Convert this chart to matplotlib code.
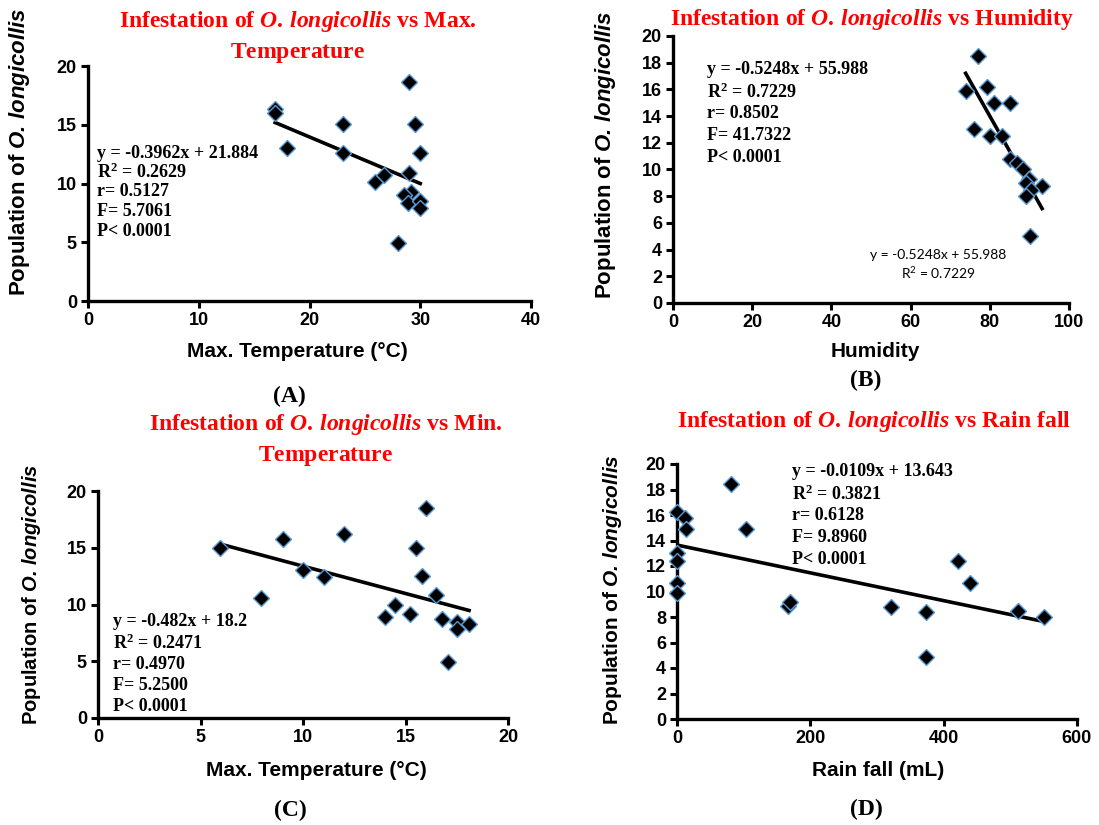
import numpy as np
import matplotlib
matplotlib.use("Agg")
import matplotlib.pyplot as plt

SANS = "Liberation Sans"
SERIF = "Liberation Serif"

matplotlib.rcParams.update({
    "font.family": SANS,
    "font.weight": "bold",
    "axes.spines.top": False,
    "axes.spines.right": False,
    "mathtext.fontset": "custom",
    "mathtext.rm": SERIF + ":bold",
    "mathtext.it": SERIF + ":italic:bold",
    "mathtext.sf": SANS + ":bold",
    "mathtext.tt": SANS + ":italic:bold",
})

# ---------------------------------------------------------------------------
# Data
# ---------------------------------------------------------------------------
max_temp = [16.9, 16.9, 18.0, 23.0, 23.0, 25.9, 26.7, 29.0, 29.5, 30.0,
            29.0, 29.2, 28.5, 28.9, 30.0, 30.0, 28.0]
pop_a = [16.3, 16.0, 13.0, 15.1, 12.6, 10.1, 10.7, 18.6, 15.1, 12.6,
         10.9, 9.3, 9.0, 8.35, 8.5, 7.95, 4.9]

humidity = [77.0, 73.9, 79.2, 81.1, 85.1, 76.0, 80.0, 83.2, 85.1, 86.8,
            88.3, 90.0, 89.1, 93.2, 90.3, 89.1, 90.1]
pop_b = [18.5, 15.9, 16.2, 15.0, 15.0, 13.0, 12.5, 12.5, 10.8, 10.5,
         10.0, 9.3, 9.0, 8.8, 8.5, 8.0, 5.0]

min_temp = [5.95, 7.95, 9.0, 10.0, 11.0, 12.0, 14.0, 14.5, 15.2, 15.5,
            15.8, 16.0, 16.5, 16.8, 17.5, 17.5, 18.1, 17.05]
pop_c = [15.0, 10.6, 15.8, 13.0, 12.4, 16.2, 8.9, 10.0, 9.15, 15.0,
         12.5, 18.5, 10.8, 8.7, 8.5, 7.8, 8.3, 4.9]

rain = [81.6, 0, 11.5, 13, 104, 0, 0, 0, 0, 167, 170, 321, 373, 373,
        422, 440, 511, 550]
pop_d = [18.4, 16.2, 15.8, 14.9, 14.9, 13.0, 12.4, 10.7, 9.9, 8.9, 9.2,
         8.76, 8.4, 4.9, 12.4, 10.7, 8.5, 8.0]

fits = {
    "A": (-0.3962, 21.884),
    "B": (-0.5248, 55.988),
    "C": (-0.482, 18.2),
    "D": (-0.0109, 13.643),
}
stats = {
    "A": ["y = -0.3962x + 21.884", "R$^{2}$ = 0.2629", "r= 0.5127",
          "F= 5.7061", "P< 0.0001"],
    "B": ["y = -0.5248x + 55.988", "R$^{2}$ = 0.7229", "r= 0.8502",
          "F= 41.7322", "P< 0.0001"],
    "C": ["y = -0.482x + 18.2", "R$^{2}$ = 0.2471", "r= 0.4970",
          "F= 5.2500", "P< 0.0001"],
    "D": ["y = -0.0109x + 13.643", "R$^{2}$ = 0.3821", "r= 0.6128",
          "F= 9.8960", "P< 0.0001"],
}

W, H = 1099, 825
fig = plt.figure(figsize=(W / 100, H / 100), dpi=100)


def px(x, y):
    return x / W, 1 - y / H


def make_axes(x0, x1, ytop, ybot):
    return fig.add_axes([x0 / W, 1 - ybot / H, (x1 - x0) / W, (ybot - ytop) / H])


RED = "#FF0000"
EDGE = "#5B9BD5"
TITLE_FS = 17
STAT_FS = 13
LABEL_FS = 15
TICK_FS = 13


def panel(ax, x, y, fit, xlim, xticks, ylim, yticks):
    slope, icpt = fit
    xs = np.array([min(x), max(x)])
    ax.plot(xs, slope * xs + icpt, color="black", lw=2.6, zorder=2)
    ax.plot(x, y, ls="none", marker="D", ms=8.3, mfc="black",
            mec=EDGE, mew=1.0, zorder=3, clip_on=False)
    ax.set_xlim(*xlim)
    ax.set_ylim(*ylim)
    ax.set_xticks(list(xticks))
    ax.set_xticklabels([str(v) for v in xticks], fontweight="heavy",
                       fontsize=TICK_FS)
    ax.set_yticks(list(yticks))
    ax.set_yticklabels([str(v) for v in yticks], fontweight="heavy",
                       fontsize=TICK_FS)
    for s in ("left", "bottom"):
        ax.spines[s].set_linewidth(2.4)
    ax.tick_params(direction="out", length=5, width=2.2, pad=3)


ylab = r"$\mathsf{Population\ of\ }\mathtt{O.}\,\mathtt{longicollis}$"

# ----- (A)
axA = make_axes(88, 531, 66, 301)
panel(axA, max_temp, pop_a, fits["A"], (0, 40), [0, 10, 20, 30, 40],
      (0, 20), [0, 5, 10, 15, 20])
# ----- (B)
axB = make_axes(673, 1069, 36, 303)
panel(axB, humidity, pop_b, fits["B"], (0, 100), range(0, 101, 20),
      (0, 20), range(0, 21, 2))
# ----- (C)
axC = make_axes(98, 508, 491, 718)
panel(axC, min_temp, pop_c, fits["C"], (0, 20), [0, 5, 10, 15, 20],
      (0, 20), [0, 5, 10, 15, 20])
# ----- (D)
axD = make_axes(677, 1077, 464, 719)
panel(axD, rain, pop_d, fits["D"], (0, 600), [0, 200, 400, 600],
      (0, 20), range(0, 21, 2))

# titles
head = r"\mathrm{Infestation\ of\ }\mathit{O.}\,\mathit{longicollis}"
tA = "$" + head + r"\mathrm{\ vs\ Max.}$" + "\n" + r"$\mathrm{Temperature}$"
tB = "$" + head + r"\mathrm{\ vs\ Humidity}$"
tC = "$" + head + r"\mathrm{\ vs\ Min.}$" + "\n" + r"$\mathrm{Temperature}$"
tD = "$" + head + r"\mathrm{\ vs\ Rain\ fall}$"
for t, (cx, cy) in [(tA, (298, 37)), (tB, (872, 20)), (tC, (326, 440)), (tD, (874, 422))]:
    fig.text(*px(cx, cy), t, color=RED, fontsize=TITLE_FS, ha="center",
             va="center", linespacing=1.3)

# x labels
for t, (cx, cy) in [("Max. Temperature (\u00b0C)", (297, 351)),
                    ("Humidity", (875, 351)),
                    ("Max. Temperature (\u00b0C)", (316, 770)),
                    ("Rain fall (mL)", (878, 770))]:
    fig.text(*px(cx, cy), t, fontsize=LABEL_FS, fontweight="bold",
             ha="center", va="center")

# y labels
for cx, cy, fs in [(20, 152, 16), (606, 155, 16), (32, 594, 14.5), (612, 590, 15)]:
    fig.text(*px(cx, cy), ylab, fontsize=fs, rotation=90,
             ha="center", va="center")

# panel letters
for t, (cx, cy) in [("(A)", (289, 396)), ("(B)", (866, 380)),
                    ("(C)", (290, 810)), ("(D)", (866, 809))]:
    fig.text(*px(cx, cy), t, fontsize=17, fontweight="bold",
             family=SERIF, ha="center", va="center")

# stats blocks
for key, (x0, y0, dy) in {"A": (97, 153, 19.5), "B": (707, 70, 21.8),
                          "C": (113, 622, 21.2), "D": (792, 472, 21.8)}.items():
    for i, line in enumerate(stats[key]):
        fig.text(*px(x0, y0 + i * dy), line, fontsize=STAT_FS,
                 family=SERIF, fontweight="bold",
                 ha="left", va="center")

# Excel-style trendline label in (B)
fig.text(*px(938, 255), "y = -0.5248x + 55.988", fontsize=10,
         fontweight="normal", family="Lato", ha="center", va="center")
fig.text(*px(938, 273), r"R$\mathregular{^2}$ = 0.7229", fontsize=10,
         fontweight="normal", family="Lato", ha="center", va="center")

fig.savefig("out.png", dpi=100)
